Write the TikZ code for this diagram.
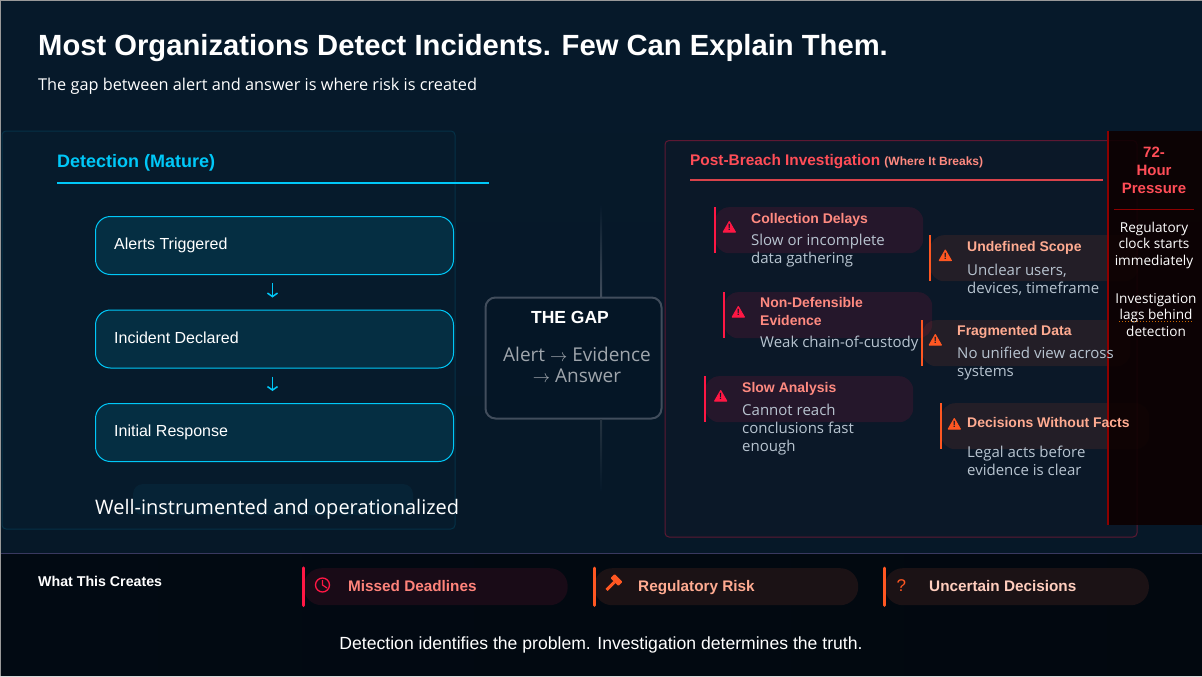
\documentclass[tikz,border=0pt]{standalone}
\usepackage{fontspec}
\setmainfont{Open Sans}
\newfontfamily\headfont{Liberation Sans}
\usetikzlibrary{shapes.geometric}
\usetikzlibrary{arrows.meta}

\definecolor{bgtop}{HTML}{06192A}
\definecolor{bgband}{HTML}{020A13}
\definecolor{cyanline}{HTML}{00C8F8}
\definecolor{boxfill}{HTML}{052E42}
\definecolor{panelfill}{HTML}{0B1828}
\definecolor{gapline}{HTML}{414D5C}
\definecolor{redbar}{HTML}{FF1744}
\definecolor{orgbar}{HTML}{FF5722}
\definecolor{redhead}{HTML}{FF4D57}
\definecolor{redtitle}{HTML}{FF8A80}
\definecolor{orgtitle}{HTML}{FFAB91}
\definecolor{desccol}{HTML}{B8C4D0}

\begin{document}
\begin{tikzpicture}[x=1pt,y=-1pt,>={Straight Barb[length=3.5pt,width=10pt]}]

\tikzstyle{head}=[anchor=base west,inner sep=0pt,font=\headfont\bfseries]
\tikzstyle{body}=[anchor=base west,inner sep=0pt]
\tikzstyle{stage}=[rectangle,draw=cyanline,fill=boxfill,line width=1pt,rounded corners=15pt,minimum width=358pt,minimum height=58pt,anchor=north west]
\tikzstyle{stagetext}=[anchor=base west,inner sep=0pt,text=white,font=\headfont\fontsize{16}{18}\selectfont]
\tikzstyle{redcard}=[rectangle,fill=redbar,fill opacity=.11,rounded corners=14pt,minimum width=208pt,minimum height=46pt,anchor=north west]
\tikzstyle{orgcard}=[rectangle,fill=orgbar,fill opacity=.10,rounded corners=14pt,minimum width=208pt,minimum height=46pt,anchor=north west]
\tikzstyle{redtext}=[head,text=redtitle,font=\headfont\bfseries\fontsize{14}{18}\selectfont,align=left]
\tikzstyle{orgtext}=[head,text=orgtitle,font=\headfont\bfseries\fontsize{14}{18}\selectfont,align=left]
\tikzstyle{desc}=[body,text=desccol,align=left,font=\fontsize{15}{18}\selectfont]
\tikzstyle{side}=[body,anchor=base,text=white,align=center,font=\fontsize{13.6}{16.5}\selectfont]
\tikzstyle{redwarn}=[regular polygon,regular polygon sides=3,fill=redbar,draw=redbar,line width=1pt,line join=round,inner sep=0pt,minimum size=14pt]
\tikzstyle{orgwarn}=[regular polygon,regular polygon sides=3,fill=orgbar,draw=orgbar,line width=1pt,line join=round,inner sep=0pt,minimum size=14pt]
\tikzstyle{pill}=[rectangle,rounded corners=18pt,minimum width=264pt,minimum height=37pt,anchor=north west]
\tikzstyle{pilltext}=[head,font=\headfont\bfseries\fontsize{15.3}{18}\selectfont]

\useasboundingbox (0,0) rectangle (1202,677);

% background
\shade[top color=bgtop,bottom color=bgtop!95!black] (0,0) rectangle (1202,553);
\shade[left color=bgband,right color=bgband!80!black] (0,553) rectangle (1202,677);
\draw[color=gray!80,line width=1.5pt] (0,677) -- (0,0) -- (1202,0);
\draw[color=white!85!black,line width=1pt] (0,676.5) -- (1202,676.5);
\draw[color=blue!25!gray!60!black,line width=1pt] (1,553.5) -- (1202,553.5);

\node[head,text=white,font=\headfont\bfseries\fontsize{29.2}{34}\selectfont] (title) at (38,56) {Most Organizations Detect Incidents. Few Can Explain Them.};
\node[body,text=white,font=\fontsize{16.3}{20}\selectfont] (subtitle) at (38,91) {The gap between alert and answer is where risk is created};

% detection side
\draw[draw=cyanline!14!bgtop,fill=cyanline!1!bgtop,line width=1pt,rounded corners=4pt] (2,131) rectangle (455,529);
\node[head,text=cyanline,font=\headfont\bfseries\fontsize{18}{22}\selectfont] (dethead) at (57,167) {Detection (Mature)};
\draw[cyanline,line width=2pt] (57,183) -- (489,183);

\node[stage] (alerts)   at (95,216) {};
\node[stage] (incident) at (95,309.5) {};
\node[stage] (response) at (95,403) {};
\node[stagetext] (alertstxt)   at (114,249) {Alerts Triggered};
\node[stagetext] (incidenttxt) at (114,343) {Incident Declared};
\node[stagetext] (responsetxt) at (114,436) {Initial Response};

\draw[->,cyanline,line width=1.5pt,shorten >=12pt,shorten <=8pt] ([xshift=-2pt]alerts.south) -- ([xshift=-2pt]incident.north);
\draw[->,cyanline,line width=1.5pt,shorten >=12pt,shorten <=8pt] ([xshift=-2pt]incident.south) -- ([xshift=-2pt]response.north);

\fill[cyanline!6!bgtop,rounded corners=10pt] (133,484) rectangle (413,515);
\node[body,text=white,font=\fontsize{20}{24}\selectfont] (welltxt) at (95,514) {Well-instrumented and operationalized};

% the gap
\node[rectangle,draw=gapline,fill=bgtop!90!black,line width=2pt,rounded corners=10pt,minimum width=176pt,minimum height=121pt,anchor=north west] (gap) at (484.5,296.5) {};
\coordinate (gaptop) at (600,205);
\coordinate (gapbot) at (602,490);
\shade[top color=bgtop,bottom color=gapline] (gaptop) rectangle ([xshift=2pt]gap.north -| gaptop);
\shade[top color=gray!25!bgtop,bottom color=bgtop] ([xshift=-2pt]gap.south -| gapbot) rectangle (gapbot);
\node[head,anchor=base,text=white,font=\headfont\bfseries\fontsize{17.5}{22}\selectfont] (gaptxt) at (570,323) {THE GAP};
\node[body,anchor=base,text=gray!45!desccol,align=center,font=\fontsize{19}{21}\selectfont] (gapsub) at (577,382) {Alert \ensuremath{\rightarrow} Evidence\\\ensuremath{\rightarrow} Answer};

% investigation side
\draw[draw=redbar!35!bgtop,fill=panelfill,line width=1pt,rounded corners=4pt] (665,140.5) rectangle (1137,537);
\node[head,text=redhead,font=\headfont\bfseries\fontsize{15.4}{20}\selectfont] (invhead) at (690,165) {Post-Breach Investigation {\fontsize{12}{14}\selectfont\color{redtitle}(Where It Breaks)}};
\draw[redhead!85!black,line width=2pt] (690,180) -- (1103,180);

\node[redcard] (collect) at (715,207) {};
\node[redcard] (nondef)  at (724,292) {};
\node[redcard] (slow)    at (705,376) {};
\node[orgcard] (scope)   at (930,235) {};
\node[orgcard] (frag)    at (922,320) {};
\node[orgcard] (decide)  at (941,403) {};

% pressure panel
\fill[fill=black!95!red,fill opacity=.88] (1108,131) rectangle (1202,525);
\draw[red!55!black,line width=2pt] (1108,131) -- (1108,525);

\draw[redbar,line width=2.5pt] (collect.north west) -- (collect.south west);
\draw[redbar,line width=2.5pt] (nondef.north west) -- (nondef.south west);
\draw[redbar,line width=2.5pt] (slow.north west) -- (slow.south west);
\draw[orgbar,line width=2.5pt] (scope.north west) -- (scope.south west);
\draw[orgbar,line width=2.5pt] (frag.north west) -- (frag.south west);
\draw[orgbar,line width=2pt] (decide.north west) -- (decide.south west);

\node[redwarn] (w1) at (729.3,228.5) {};
\node[redwarn] (w2) at (738.3,313.5) {};
\node[redwarn] (w3) at (720.7,397.5) {};
\node[orgwarn] (w4) at (945.3,257) {};
\node[orgwarn] (w5) at (935.3,341.5) {};
\node[orgwarn] (w6) at (954.3,425.5) {};
\foreach \w in {w1,w2,w3,w4,w5,w6}
  \node[text=panelfill,inner sep=0pt,yshift=1pt,font=\headfont\bfseries\fontsize{9}{9}\selectfont] at (\w) {!};

\node[redtext] (t1) at (751,223) {Collection Delays};
\node[desc]    (d1) at (751,263) {Slow or incomplete\\data gathering};
\node[redtext] (t2) at (760,325) {Non-Defensible\\Evidence};
\node[desc]    (d2) at (760,347) {Weak chain-of-custody};
\node[redtext] (t3) at (742,392) {Slow Analysis};
\node[desc]    (d3) at (742,451) {Cannot reach\\conclusions fast\\enough};
\node[orgtext] (t4) at (967,251) {Undefined Scope};
\node[desc]    (d4) at (967,293) {Unclear users,\\devices, timeframe};
\node[orgtext] (t5) at (957,335) {Fragmented Data};
\node[desc]    (d5) at (957,376) {No unified view across\\systems};
\node[orgtext] (t6) at (967,427) {Decisions Without Facts};
\node[desc]    (d6) at (967,475) {Legal acts before\\evidence is clear};

\node[head,anchor=base,text=redhead,align=center,font=\headfont\bfseries\fontsize{15}{18}\selectfont] (presshead) at (1154,193) {72-\\Hour\\Pressure};
\draw[red!55!black,line width=1pt] (1114,209.5) -- (1194,209.5);
\node[side] (press1) at (1154,265) {Regulatory\\clock starts\\immediately};
\node[side] (press2) at (1156,336) {Investigation\\lags behind\\detection};
\draw[color=orange!80!black,line width=1pt,dotted] (1119,321) -- (1193,321);

% what this creates
\node[head,text=white,font=\headfont\bfseries\fontsize{14.2}{17}\selectfont] (createhead) at (38,586) {What This Creates};

\node[pill,fill=redbar!9!bgband] (missed) at (303.5,568) {};
\node[pill,fill=orgbar!10!bgband] (reg)    at (594,568) {};
\node[pill,fill=orgbar!10!bgband] (unsure) at (884.7,568) {};
\draw[redbar,line width=3.5pt,line cap=round] (missed.north west) -- (missed.south west);
\draw[orgbar,line width=3pt,line cap=round] (reg.north west) -- (reg.south west);
\draw[orgbar,line width=3pt,line cap=round] (unsure.north west) -- (unsure.south west);

\node[circle,draw=redbar,line width=1.3pt,minimum size=14pt,inner sep=0pt] (clock) at (322.5,585) {};
\draw[redbar,line width=1.2pt] (322.5,580) -- (clock.center) -- (327,588);
\fill[orgbar,rotate around={-45:(616.5,580)}] (615,583) rectangle (618,594);
\fill[orgbar,rotate around={-45:(616.5,580)},rounded corners=1pt] (611,577) rectangle (622,583);
\node[head,text=orgbar,font=\headfont\fontsize{17}{20}\selectfont] (qmark) at (896.5,591.5) {?};

\node[pilltext,text=redtitle!95!red] (missedtxt) at (348,591) {Missed Deadlines};
\node[pilltext,text=orgtitle] (regtxt) at (638,591) {Regulatory Risk};
\node[pilltext,text=orgtitle!60!white] (unsuretxt) at (929,591) {Uncertain Decisions};

\node[head,anchor=base,text=white,font=\headfont\fontsize{17.6}{20}\selectfont] (footer) at (601,649) {Detection identifies the problem. Investigation determines the truth.};

\end{tikzpicture}
\end{document}
